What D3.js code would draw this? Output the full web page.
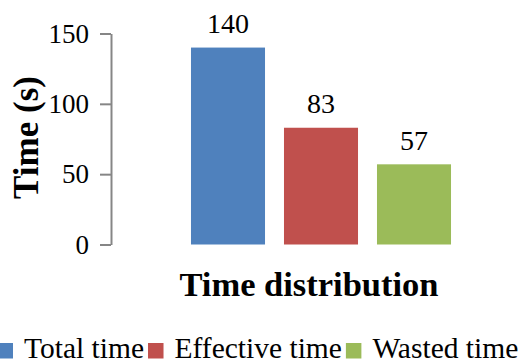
<!DOCTYPE html>
<html>
<head>
<meta charset="utf-8">
<script src="https://cdn.jsdelivr.net/npm/d3@7"></script>
<style>
  html, body { margin: 0; padding: 0; background: #fff; }
  svg { display: block; }
</style>
</head>
<body>
<svg id="chart" width="528" height="363"></svg>
<script>
const series = ["Total time", "Effective time", "Wasted time"];
const values = [140, 83, 57];
const colors = ["#4F81BD", "#C0504D", "#9BBB59"];
const yTicks = [0, 50, 100, 150];
const xTitle = "Time distribution";
const yTitle = "Time (s)";

const svg = d3.select("#chart");
const font = "'Liberation Serif', 'Times New Roman', serif";

const y = d3.scaleLinear().domain([0, 150]).range([244.5, 33.5]);
const x = d3.scaleBand().domain(series).range([181.5, 460.5]).paddingInner(0.204).paddingOuter(0.102);

// y axis
const yAxis = d3.axisLeft(y).tickValues(yTicks).tickSize(11).tickPadding(11).tickSizeOuter(0);
const gy = svg.append("g").attr("transform", "translate(111,0)").call(yAxis);
gy.select(".domain").attr("stroke", "#868686").attr("stroke-width", 2);
gy.selectAll(".tick line").attr("stroke", "#868686").attr("stroke-width", 2);
gy.selectAll(".tick text").attr("font-family", font).attr("font-size", 27).attr("fill", "#000");

// bars
svg.append("g").selectAll("rect").data(series).join("rect")
  .attr("x", d => x(d))
  .attr("y", (d, i) => y(values[i]))
  .attr("width", x.bandwidth())
  .attr("height", (d, i) => y(0) - y(values[i]))
  .attr("fill", (d, i) => colors[i]);

// value labels
svg.append("g").selectAll("text").data(series).join("text")
  .attr("x", d => x(d) + x.bandwidth() / 2)
  .attr("y", (d, i) => y(values[i]) - 14.5)
  .attr("text-anchor", "middle")
  .attr("font-family", font).attr("font-size", 28).attr("fill", "#000")
  .text((d, i) => values[i]);

// y title
svg.append("text")
  .attr("transform", "translate(38,137.5) rotate(-90)")
  .attr("text-anchor", "middle")
  .attr("font-family", font).attr("font-size", 35).attr("font-weight", "bold")
  .text(yTitle);

// x title
svg.append("text")
  .attr("x", 309).attr("y", 296)
  .attr("text-anchor", "middle")
  .attr("font-family", font).attr("font-size", 34.5).attr("font-weight", "bold")
  .text(xTitle);

// legend
const lg = svg.append("g");
const items = lg.selectAll("g").data(series).join("g");
items.append("rect").attr("width", 15.5).attr("height", 15.5).attr("y", 343)
  .attr("fill", (d, i) => colors[i]);
items.append("text").attr("y", 357.5)
  .attr("font-family", font).attr("font-size", 29.5).attr("fill", "#000")
  .text(d => d);
let cx = -2.5;
items.each(function (d) {
  const g = d3.select(this);
  const w = g.select("text").node().getComputedTextLength();
  g.select("rect").attr("x", cx);
  g.select("text").attr("x", cx + 26.5);
  cx += 26.5 + w + 4;
});
</script>
</body>
</html>
